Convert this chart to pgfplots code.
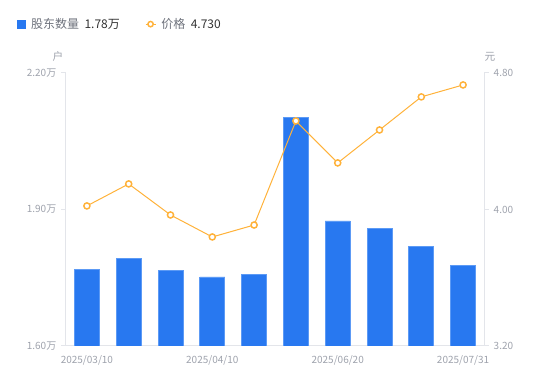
\documentclass[border=0pt]{standalone}
\usepackage{pgfplots}
\pgfplotsset{compat=1.18}
\usepackage{fontspec}
\setmainfont{Noto Sans CJK SC}
\definecolor{barblue}{HTML}{2878F0}
\definecolor{baredge}{HTML}{5C9AF5}
\definecolor{lineorange}{HTML}{FFB23A}
\definecolor{tickgray}{HTML}{9EA2AC}
\definecolor{axgray}{HTML}{E3E5EA}
\definecolor{txtdark}{HTML}{333333}
\definecolor{txtgray}{HTML}{6E727C}
\pgfplotsset{
  midmark legend/.style={legend image code/.code={\draw[lineorange, line width=0.75pt] (0pt,0pt) -- (7.5pt,0pt); \draw[lineorange, fill=white, line width=1.1pt] (3.75pt,0pt) circle (2pt);}},
  square legend/.style={legend image code/.code={\fill[barblue] (0pt,-3pt) rectangle (6pt,3pt);}},
  my legend/.style={anchor=west, draw=none, fill=none,
    legend columns=-1, font=\fontsize{9}{11}\selectfont, text=txtgray,
    /tikz/every odd column/.append style={column sep=2pt}},
}
\begin{document}
\begin{tikzpicture}
\useasboundingbox (0pt,0pt) rectangle (412.5pt,285.75pt);
\pgfplotsset{
  base/.style={
    scale only axis, width=313.5pt, height=204.75pt,
    at={(49.5pt,26.25pt)}, anchor=south west,
    xmin=-0.5, xmax=9.5,
    tick label style={font=\fontsize{7.5}{9}\selectfont, text=tickgray},
    /pgf/number format/assume math mode=true,
    axis line style={axgray, line width=0.75pt, -},
    major tick length=3.75pt,
    tick style={axgray, line width=0.75pt},
    tick align=outside,
  }
}
\begin{axis}[base,
  ymin=1.6, ymax=2.2,
  ytick={1.6,1.9,2.2}, yticklabels={1.60万,1.90万,2.20万},
  axis x line*=bottom, axis y line*=left,
  xtick={0,3,6,9},
  xticklabels={2025/03/10,2025/04/10,2025/06/20,2025/07/31},
  major x tick style={draw=none},
  ybar, bar width=18.75pt,
  legend style={my legend, at={(-0.127,1.179)}},
]
\addplot[fill=barblue, draw=baredge, line width=0.5pt, square legend]
  coordinates {(0,1.769) (1,1.793) (2,1.767) (3,1.752) (4,1.758) (5,2.103) (6,1.875) (7,1.859) (8,1.818) (9,1.778)};
\addlegendentry{股东数量\hspace{4pt}\textcolor{txtdark}{1.78万}}
\end{axis}
\begin{axis}[base,
  ymin=3.2, ymax=4.8,
  ytick={3.2,4.0,4.8}, yticklabels={3.20,4.00,4.80},
  axis y line*=right, axis x line=none,
  clip=false,
  legend style={my legend, at={(0.179,1.179)}},
]
\addplot[lineorange, line width=0.75pt, mark=*, mark size=2.3pt,
  mark options={fill=white, draw=lineorange, line width=1.1pt}, midmark legend]
  coordinates {(0,4.021) (1,4.150) (2,3.968) (3,3.839) (4,3.909) (5,4.519) (6,4.273) (7,4.466) (8,4.660) (9,4.730)};
\addlegendentry{价格\hspace{4pt}\textcolor{txtdark}{4.730}}
\node[font=\fontsize{8}{10}\selectfont, text=tickgray] at (rel axis cs:-0.019,1.059) {户};
\node[font=\fontsize{8}{10}\selectfont, text=tickgray] at (rel axis cs:1.014,1.059) {元};
\end{axis}
\end{tikzpicture}
\end{document}
